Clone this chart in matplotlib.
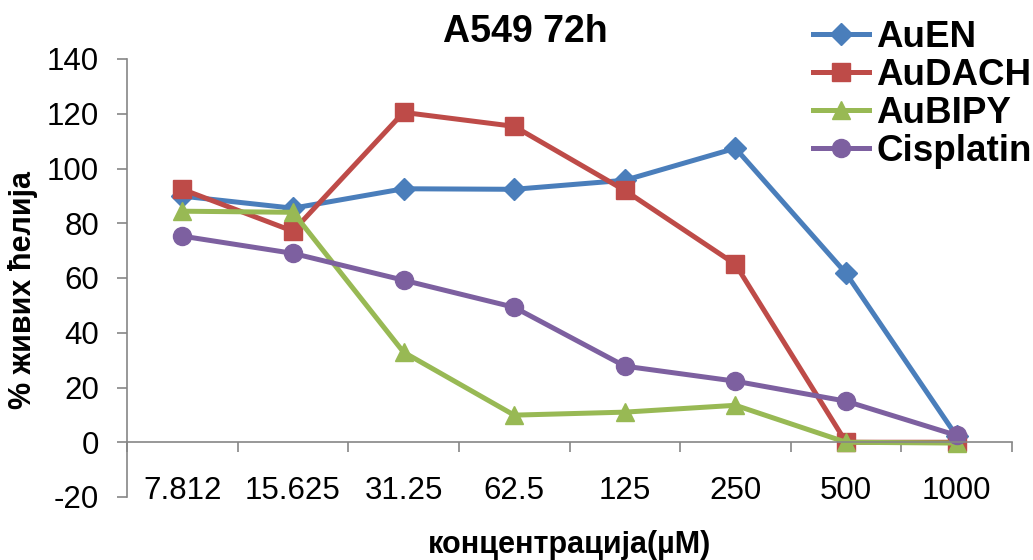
import numpy as np
import matplotlib.pyplot as plt

plt.rcParams['font.family'] = ['Liberation Sans', 'DejaVu Sans']
plt.rcParams['axes.unicode_minus'] = False

# data
conc = ['7.812', '15.625', '31.25', '62.5', '125', '250', '500', '1000']
auen = [89.9, 85.5, 92.6, 92.4, 95.7, 107.4, 61.7, 2.2]
audach = [92.4, 77.1, 120.5, 115.4, 92.0, 65.0, 0.0, 0.0]
aubipy = [84.4, 84.0, 32.9, 9.9, 11.0, 13.5, 0.0, -0.3]
cispl = [75.3, 69.0, 59.2, 49.3, 27.8, 22.3, 15.0, 2.5]

names = ['AuEN', 'AuDACH', 'AuBIPY', 'Cisplatin']
colors = ['#4A7EBB', '#BE4B48', '#98B954', '#7D60A0']
markers = ['D', 's', '^', 'o']
msizes = [11.5, 13, 13, 13]

fig = plt.figure(figsize=(10.33, 5.6), dpi=100)
ax = fig.add_axes([127/1033, 1-497/560, (1012-127)/1033, (497-59)/560])

x = np.arange(len(conc))
for vals, nm, c, m, ms in zip([auen, audach, aubipy, cispl], names, colors, markers, msizes):
    ax.plot(x, vals, color=c, marker=m, markersize=ms, lw=3.6, label=nm,
            clip_on=False, solid_joinstyle='round')

ax.set_xlim(-0.5, len(conc) - 0.5)
ax.set_ylim(-20, 140)
ax.set_yticks(np.arange(-20, 141, 20))

spine_c = '#868686'
ax.spines['top'].set_visible(False)
ax.spines['right'].set_visible(False)
ax.spines['bottom'].set_position(('data', 0))
ax.spines['bottom'].set_color(spine_c)
ax.spines['left'].set_color(spine_c)
ax.spines['bottom'].set_linewidth(1.2)
ax.spines['left'].set_linewidth(1.2)

ax.set_xticks(x)
ax.set_xticklabels(conc)
ax.set_xticks(np.arange(-0.5, len(conc), 1), minor=True)
ax.tick_params(axis='x', which='major', length=0, pad=24, labelsize=22.5)
ax.tick_params(axis='x', which='minor', length=7, width=1.2, color=spine_c, direction='out')
ax.tick_params(axis='y', length=7, width=1.2, color=spine_c, direction='out',
               pad=13, labelsize=22.5)

ax.set_title('A549 72h', fontsize=27, fontweight='bold', x=0.45, y=1.0, pad=12)
ax.set_xlabel('концентрација(µM)', fontsize=22, fontweight='bold')
ax.xaxis.set_label_coords(0.5, -0.075)
ax.set_ylabel('% живих ћелија', fontsize=22, fontweight='bold')
ax.yaxis.set_label_coords(-0.1, 0.473)

leg = ax.legend(loc='upper left', bbox_to_anchor=(0.759, 1.123), frameon=False,
                prop={'weight': 'bold', 'size': 26.5},
                handlelength=1.5, handletextpad=0.2, labelspacing=0.08,
                borderaxespad=0)

fig.savefig('out.png', dpi=100)
